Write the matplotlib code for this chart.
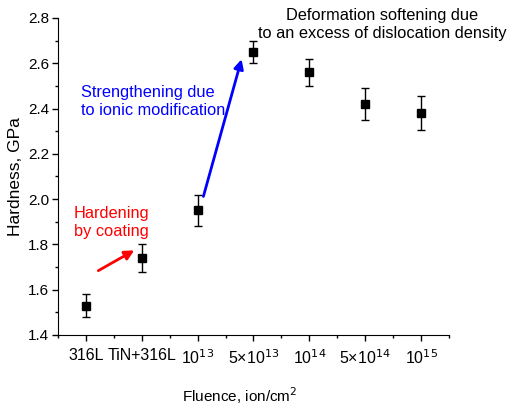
import numpy as np
import matplotlib.pyplot as plt

plt.rcParams['font.family'] = ['Liberation Sans', 'DejaVu Sans']

labels = ['316L', 'TiN+316L', '10$^{13}$', '5×10$^{13}$', '10$^{14}$', '5×10$^{14}$', '10$^{15}$']
hardness = [1.53, 1.74, 1.95, 2.65, 2.56, 2.42, 2.38]
errors = [0.05, 0.06, 0.07, 0.05, 0.06, 0.07, 0.075]

x = np.arange(1, len(labels) + 1)

fig = plt.figure(figsize=(5.08, 4.09), dpi=100)
ax = fig.add_axes([0.114, 0.181, 0.770, 0.775])

ax.errorbar(x, hardness, yerr=errors, fmt='s', color='black', ms=6,
            ecolor='black', elinewidth=1, capsize=3, capthick=1)

ax.set_xlim(0.5, 7.5)
ax.set_ylim(1.4, 2.8)
ax.set_xticks(x)
ax.set_xticklabels(labels, fontsize=11.5)
ax.set_xticks(np.arange(0.5, 7.6, 1.0), minor=True)
yt = np.arange(1.4, 2.81, 0.2)
ax.set_yticks(yt)
ax.set_yticklabels([f'{v:.1f}' for v in yt], fontsize=11)
ax.set_yticks(np.arange(1.5, 2.8, 0.2), minor=True)
ax.tick_params(which='major', direction='out', length=4.5, width=1, pad=5)
ax.tick_params(axis='y', which='major', pad=2)
ax.tick_params(which='minor', direction='out', length=2.5, width=1)

ax.spines['top'].set_visible(False)
ax.spines['right'].set_visible(False)

ax.set_ylabel('Hardness, GPa', fontsize=12.5)
ax.yaxis.set_label_coords(-0.09, 0.5)
ax.set_xlabel('Fluence, ion/cm$^2$', fontsize=11)
ax.xaxis.set_label_coords(0.465, -0.16)

ax.text(6.3, 2.772, 'Deformation softening due\nto an excess of dislocation density',
        ha='center', va='center', fontsize=11.8, linespacing=1.25)
ax.text(0.91, 2.431, 'Strengthening due\nto ionic modification', color='blue',
        ha='left', va='center', fontsize=11.8, linespacing=1.25)
ax.text(0.786, 1.895, 'Hardening\nby coating', color='red',
        ha='left', va='center', fontsize=11.8, linespacing=1.25)

ax.annotate('', xy=(3.80, 2.63), xytext=(3.09, 2.0),
            arrowprops=dict(arrowstyle='-|>', color='blue', lw=2, mutation_scale=14))
ax.annotate('', xy=(1.91, 1.78), xytext=(1.18, 1.678),
            arrowprops=dict(arrowstyle='-|>', color='red', lw=2, mutation_scale=14))

fig.savefig('out.png', dpi=100)
